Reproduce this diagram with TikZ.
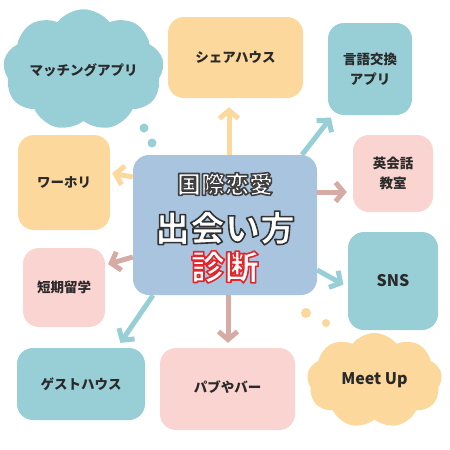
\documentclass[tikz,border=0pt]{standalone}
\usepackage{fontspec}
\setmainfont{Noto Sans CJK JP}
\usetikzlibrary{shapes.symbols,arrows.meta}
\definecolor{tealc}{HTML}{98CED6}
\definecolor{orangec}{HTML}{FCD89C}
\definecolor{pinkc}{HTML}{FAD4D0}
\definecolor{bluec}{HTML}{A8C4DF}
\definecolor{rosec}{HTML}{D6ABA3}
\definecolor{txt}{HTML}{2A2A2A}
% outlined text: white fill, stroked edge in the colour given as pdf RG values
\newcommand{\outlined}[2]{\special{pdf:code 2 Tr 1.6 w 1 j}\textcolor{white}{\special{pdf:code #1 RG}#2}\special{pdf:code 0 Tr}}

\tikzstyle{box}=[rounded corners=16pt,inner sep=0pt,align=center,text=txt,font=\bfseries\fontsize{13.5}{20}\selectfont]
\tikzstyle{tealbox}=[box,fill=tealc]
\tikzstyle{orangebox}=[box,fill=orangec]
\tikzstyle{pinkbox}=[box,fill=pinkc]
\tikzstyle{thought}=[cloud,cloud puffs=9,cloud puff arc=105,aspect=1.5,inner sep=0pt,text=txt,font=\bfseries\fontsize{13.5}{20}\selectfont]
\tikzstyle{bubble}=[circle,inner sep=0pt]
\tikzstyle{arr}=[line width=5pt,-{Straight Barb[length=8pt,width=19pt]}]

\begin{document}
\begin{tikzpicture}[x=1pt,y=-1pt]
\useasboundingbox (0,0) rectangle (450,450);
% centre
\node[box,fill=bluec,minimum width=184pt,minimum height=140pt] (center) at (225,225) {};
\node[font=\bfseries\fontsize{24}{24}\selectfont] (ctitle) at (225,184) {\outlined{0.25 0.25 0.25}{国際恋愛}};
\node[font=\bfseries\fontsize{35}{35}\selectfont] (cmain) at (225,228) {\outlined{0.2 0.2 0.2}{出会い方}};
\node[font=\bfseries\fontsize{34}{34}\selectfont] (cdiag) at (225,267) {\outlined{0.89 0.15 0.17}{診断}};
% top row
\node[thought,fill=tealc,minimum width=147pt,minimum height=96pt] (match) at (83.5,70) {マッチングアプリ};
\node[bubble,fill=tealc,minimum size=9pt] (mbub1) at (144,128) {};
\node[bubble,fill=tealc,minimum size=9pt] (mbub2) at (152,143) {};
\node[orangebox,minimum width=135pt,minimum height=81pt] (share) at (235.5,57.5) {シェアハウス};
\node[tealbox,minimum width=84pt,minimum height=92pt] (lang) at (370,69) {言語交換\\アプリ};
% middle rows
\node[orangebox,minimum width=92pt,minimum height=95pt] (wh) at (64,182.5) {ワーホリ};
\node[pinkbox,minimum width=80pt,minimum height=77pt] (eikaiwa) at (393,173.5) {英会話\\教室};
\node[pinkbox,minimum width=82pt,minimum height=79pt] (tanki) at (64,287.5) {短期留学};
\node[tealbox,minimum width=90pt,minimum height=98pt,font=\bfseries\fontsize{16}{20}\selectfont] (sns) at (393,281) {SNS};
% bottom row
\node[tealbox,minimum width=128pt,minimum height=72pt] (guest) at (81,384) {ゲストハウス};
\node[pinkbox,minimum width=135pt,minimum height=82pt] (pub) at (227.5,389) {\raisebox{5pt}{パブやバー}};
\node[thought,fill=orangec,minimum width=135pt,minimum height=95pt,font=\bfseries\fontsize{16}{20}\selectfont] (meet) at (374.5,380.5) {Meet Up};
\node[bubble,fill=orangec,minimum size=10pt] (ubub1) at (306,313) {};
\node[bubble,fill=orangec,minimum size=8pt] (ubub2) at (326,323) {};
% arrows
\draw[arr,orangec,shorten >=9pt] ([xshift=4pt]center.north) -- ([xshift=-6.5pt]share.south);
\draw[arr,tealc,shorten >=3pt] ([xshift=77pt]center.north) -- ([xshift=5pt]lang.south west);
\draw[arr,rosec,shorten >=6pt] ([yshift=33pt]center.east) -- ([yshift=-18.5pt]eikaiwa.west);
\draw[arr,orangec,shorten >=2pt] ([yshift=48pt]center.west) -- ([yshift=9.5pt]wh.east);
\draw[arr,rosec,shorten >=3pt] ([yshift=-32pt]center.west) -- ([yshift=22.5pt]tanki.east);
\draw[arr,tealc,shorten >=6pt] ([xshift=-72pt]center.south) -- ([xshift=36pt]guest.north);
\draw[arr,rosec,shorten >=5pt] ([xshift=3pt]center.south) -- ([xshift=0.5pt]pub.north);
\draw[arr,tealc,shorten >=5pt] ([yshift=-45pt]center.east) -- ([yshift=-6pt]sns.west);
\end{tikzpicture}
\end{document}
